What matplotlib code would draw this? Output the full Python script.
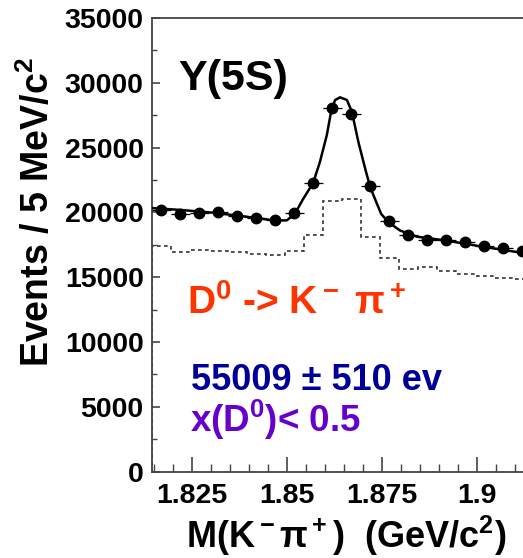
import numpy as np
import matplotlib
matplotlib.use("Agg")
import matplotlib.pyplot as plt
from matplotlib.ticker import MultipleLocator, FuncFormatter

# Fonts: bold sans everywhere, mathtext mapped onto the same face
plt.rcParams['font.family'] = ['Liberation Sans', 'DejaVu Sans']
plt.rcParams['font.weight'] = 'bold'
plt.rcParams['mathtext.fontset'] = 'custom'
plt.rcParams['mathtext.rm'] = 'Liberation Sans:bold'
plt.rcParams['mathtext.it'] = 'Liberation Sans:bold'
plt.rcParams['mathtext.bf'] = 'Liberation Sans:bold'
plt.rcParams['mathtext.sf'] = 'Liberation Sans:bold'
plt.rcParams['mathtext.default'] = 'rm'

# Data points: M(K pi) bin centres (GeV/c^2) and events per 5 MeV
mass = [1.817, 1.822, 1.827, 1.832, 1.837, 1.842, 1.847, 1.852, 1.857, 1.862,
        1.867, 1.872, 1.877, 1.882, 1.887, 1.892, 1.897, 1.902, 1.907, 1.912]
events = [20150, 19890, 19970, 20020, 19710, 19580, 19430, 19970, 22270, 28080,
          27620, 22040, 19300, 18270, 17900, 17900, 17700, 17440, 17230, 17050]

# Sideband / comparison histogram (dotted), same binning, bin low edges
hist_edges = [1.8145, 1.8195, 1.8245, 1.8295, 1.8345, 1.8395, 1.8445, 1.8495, 1.8545, 1.8595,
              1.8645, 1.8695, 1.8745, 1.8795, 1.8845, 1.8895, 1.8945, 1.8995, 1.9045, 1.9095, 1.9145]
hist_counts = [17430, 16970, 17100, 17050, 16920, 16820, 16740, 17020, 18260, 20860,
               21000, 18080, 16460, 15630, 15810, 15500, 15240, 15110, 14910, 14860]

# Fit curve sampled along its length
fit_x = [1.8145, 1.8225, 1.8305, 1.8385, 1.8469, 1.8500, 1.8521, 1.8543, 1.8569, 1.8587,
         1.8605, 1.8618, 1.8627, 1.8640, 1.8658, 1.8671, 1.8688, 1.8706, 1.8719, 1.8737,
         1.8748, 1.8767, 1.8798, 1.8842, 1.8921, 1.9008, 1.9121, 1.9145]
fit_y = [20340, 20180, 19980, 19700, 19370, 19390, 19890, 21050, 22270, 23900,
         25960, 28030, 28670, 28880, 28670, 27770, 25450, 23380, 21960, 20670,
         19890, 19250, 18600, 18130, 17820, 17390, 16870, 16780]

fig = plt.figure(figsize=(5.23, 5.58), dpi=100)
ax = fig.add_axes([0.2906, 0.1547, 0.7266, 0.8131])

ax.stairs(hist_counts, hist_edges, color='#333333', linestyle=(0, (2.2, 2.0)), linewidth=1.2)
ax.plot(fit_x, fit_y, color='black', linewidth=1.8, zorder=3)
ax.errorbar(mass, events, xerr=0.0025, fmt='o', color='black', markersize=7.5,
            elinewidth=0.9, capsize=0, zorder=4)

ax.set_xlim(1.8145, 1.9145)
ax.set_ylim(0, 35000)

ax.xaxis.set_major_locator(MultipleLocator(0.025))
ax.xaxis.set_minor_locator(MultipleLocator(0.005))
ax.yaxis.set_major_locator(MultipleLocator(5000))
ax.yaxis.set_minor_locator(MultipleLocator(2500))
ax.xaxis.set_major_formatter(FuncFormatter(lambda v, p: '%g' % round(v, 4)))
ax.yaxis.set_major_formatter(FuncFormatter(lambda v, p: '%d' % v))

ax.tick_params(axis='both', which='both', direction='in', labelsize=20.5, color='#444444')
ax.tick_params(axis='x', which='major', length=11, width=1.2, pad=8)
ax.tick_params(axis='x', which='minor', length=6, width=1.0)
ax.tick_params(axis='y', which='major', length=6, width=1.2, pad=6)
ax.tick_params(axis='y', which='minor', length=3.5, width=1.0)
ax.tick_params(top=False, right=False, which='both')
for lab in ax.get_xticklabels() + ax.get_yticklabels():
    lab.set_fontweight('bold')
for s in ax.spines.values():
    s.set_color('#444444')
    s.set_linewidth(1.3)

# Annotations inside the frame
ax.text(0.068, 0.841, 'Y(5S)', transform=ax.transAxes, fontsize=31,
        fontweight='bold', color='black', va='baseline', ha='left')
ax.text(0.092, 0.347, r'D$^0$ -> K$^-$ $\pi^+$', transform=ax.transAxes,
        fontsize=28, fontweight='bold', color='#ff3300', va='baseline', ha='left')
ax.text(0.102, 0.1805, '55009 \u00b1 510 ev', transform=ax.transAxes, fontsize=26,
        fontweight='bold', color='#000099', va='baseline', ha='left')
ax.text(0.100, 0.088, r'x(D$^0$)< 0.5', transform=ax.transAxes, fontsize=26.5,
        fontweight='bold', color='#6600cc', va='baseline', ha='left')

fig.text(0.0727, 0.62, r'Events / 5 MeV/c$^2$', rotation=90, fontsize=27,
         fontweight='bold', ha='center', va='center')
fig.text(0.662, 0.018, r'M(K$^-\pi^+$)  (GeV/c$^2$)', fontsize=26,
         fontweight='bold', ha='center', va='baseline')

fig.savefig('out.png', dpi=100)
